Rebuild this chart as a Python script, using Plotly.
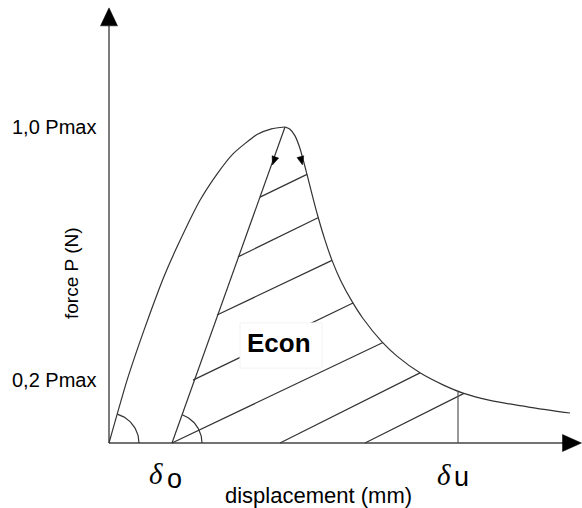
import numpy as np
import plotly.graph_objects as go

# ---- data (x: displacement units, y: fraction of Pmax) ----
rise_x = [0, 0.36, 0.6, 0.82, 1.1, 1.38, 1.82, 2.16, 2.48, 2.96, 3.25, 3.52]
rise_y = [0, 0.198, 0.312, 0.410, 0.527, 0.627, 0.768, 0.851, 0.915, 0.976, 0.994, 1.0]

fall_x = [3.52, 3.62, 3.72, 3.82, 3.96, 4.08, 4.18, 4.32, 4.46, 4.64, 4.86,
          5.08, 5.46, 5.76, 6.22, 6.68, 7.08, 7.62, 8.42, 9.22]
fall_y = [1.0, 0.993, 0.972, 0.932, 0.850, 0.775, 0.716, 0.642, 0.578, 0.512, 0.448,
          0.394, 0.320, 0.275, 0.222, 0.184, 0.158, 0.135, 0.113, 0.095]

unload_x = [1.26, 3.52]
unload_y = [0.0, 1.0]

hatch_x0 = [3.02, 2.58, 2.16, 1.68, 1.26, 3.42, 5.12]
hatch_y0 = [0.778, 0.589, 0.405, 0.199, 0.0, 0.0, 0.0]
hatch_x1 = [3.96, 4.18, 4.46, 4.88, 5.48, 6.22, 7.10]
hatch_y1 = [0.850, 0.713, 0.578, 0.443, 0.318, 0.222, 0.157]

delta_o = 1.26
delta_u = 6.98
delta_u_force = 0.162

tick_vals = [1.0, 0.2]
tick_text = ["1,0 Pmax", "0,2 Pmax"]

# ---- view geometry ----
SX, SY = 50.0, 316.0          # px per data unit
X0, X1 = -2.18, 9.46
Y0, Y1 = -0.2057, 1.4019
LINE = "#333333"

fig = go.Figure()

def add_line(x, y, width=1.2, color=LINE, shape="linear", smoothing=None):
    line = dict(color=color, width=width, shape=shape)
    if smoothing is not None:
        line["smoothing"] = smoothing
    fig.add_trace(go.Scatter(x=x, y=y, mode="lines", line=line, hoverinfo="skip"))

def head(tx, ty, dxp, dyp, L, W):
    n = np.hypot(dxp, dyp)
    ux, uy = dxp / n, dyp / n
    bx, by = -ux * L, -uy * L
    qx, qy = -uy, ux
    pts = [(0, 0), (bx + qx * W / 2, by + qy * W / 2), (bx - qx * W / 2, by - qy * W / 2), (0, 0)]
    xs = [tx + p[0] / SX for p in pts]
    ys = [ty + p[1] / SY for p in pts]
    fig.add_trace(go.Scatter(x=xs, y=ys, mode="lines", fill="toself", fillcolor="#000",
                             line=dict(color="#000", width=0.5), hoverinfo="skip"))

def arc(cx, cy, r_px, a1):
    t = np.radians(np.linspace(0, a1, 40))
    return list(cx + r_px * np.cos(t) / SX), list(cy + r_px * np.sin(t) / SY)

# axes
add_line([0, 0], [0, 1.32], width=1.4, color="#444")
add_line([0, 9.08], [0, 0], width=1.4, color="#444")
head(0, 1.377, 0, 1, 18, 17)
head(9.45, 0, 1, 0, 19, 17)

# curves
add_line(rise_x, rise_y, shape="spline", smoothing=0.6)
add_line(fall_x, fall_y, shape="spline", smoothing=0.6)
add_line(unload_x, unload_y)

# hatching
hx, hy = [], []
for a, b, c, d in zip(hatch_x0, hatch_y0, hatch_x1, hatch_y1):
    hx += [a, c, None]
    hy += [b, d, None]
add_line(hx, hy)

# delta_u vertical
add_line([delta_u, delta_u], [0, delta_u_force], width=1.2, color="#555")

# angle arcs
ax1, ay1 = arc(0, 0, 30, 74)
add_line(ax1, ay1)
ax2, ay2 = arc(delta_o, 0, 30, 70)
add_line(ax2, ay2)

# direction arrowheads
head(3.27, 0.880, -113, -316, 8.5, 7)
head(3.87, 0.880, 7, -27, 8.5, 7)

FONT = "Liberation Sans, Arial, sans-serif"
ann = []
for v, t in zip(tick_vals, tick_text):
    ann.append(dict(x=-0.22, y=v, text=t, xanchor="right", yanchor="middle", showarrow=False,
                    font=dict(family=FONT, size=20, color="#000")))
ann.append(dict(x=-0.74, y=0.538, text="force P (N)", textangle=-90, showarrow=False,
                font=dict(family=FONT, size=19, color="#000")))
ann.append(dict(x=4.19, y=-0.165, text="displacement (mm)", showarrow=False,
                font=dict(family=FONT, size=22, color="#000")))
ann.append(dict(x=0.94, y=-0.098, text="<i>δ</i>", showarrow=False,
                font=dict(family="Liberation Serif, serif", size=29, color="#000")))
ann.append(dict(x=1.30, y=-0.114, text="o", showarrow=False,
                font=dict(family=FONT, size=27, color="#000")))
ann.append(dict(x=6.70, y=-0.101, text="<i>δ</i>", showarrow=False,
                font=dict(family="Liberation Serif, serif", size=29, color="#000")))
ann.append(dict(x=7.04, y=-0.108, text="u", showarrow=False,
                font=dict(family=FONT, size=27, color="#000")))
ann.append(dict(x=3.40, y=0.318, text="<b>Econ</b>", showarrow=False,
                font=dict(family=FONT, size=26, color="#000")))

fig.update_layout(
    width=582, height=508,
    margin=dict(l=0, r=0, t=0, b=0),
    paper_bgcolor="white", plot_bgcolor="white",
    showlegend=False, hovermode=False,
    xaxis=dict(range=[X0, X1], visible=False, fixedrange=True),
    yaxis=dict(range=[Y0, Y1], visible=False, fixedrange=True),
    shapes=[dict(type="rect", x0=2.62, x1=4.26, y0=0.237, y1=0.380, layer="above",
                 fillcolor="white", line=dict(color="#f2f2f2", width=1))],
    annotations=ann,
)

fig.write_html("out.html")
